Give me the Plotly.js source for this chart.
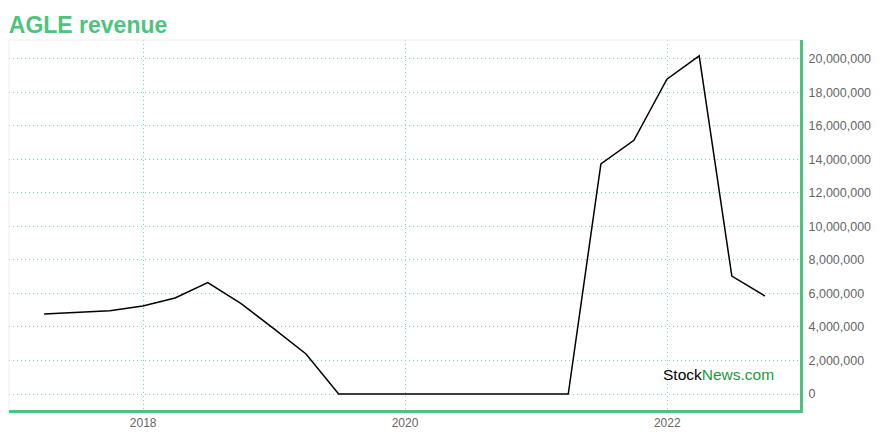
<!DOCTYPE html>
<html>
<head>
<meta charset="utf-8">
<script src="https://cdn.plot.ly/plotly-3.0.1.min.js"></script>
<style>html,body{margin:0;padding:0;background:#fff;}#chart{width:880px;height:440px;}</style>
</head>
<body>
<div id="chart"></div>
<script>
const dates = ["2017-03-31","2017-06-30","2017-09-30","2017-12-31","2018-03-31","2018-06-30","2018-09-30","2018-12-31","2019-03-31","2019-06-30","2019-09-30","2019-12-31","2020-03-31","2020-06-30","2020-09-30","2020-12-31","2021-03-31","2021-06-30","2021-09-30","2021-12-31","2022-03-31","2022-06-30","2022-09-30"];
const revenue = [4780000,4880000,4970000,5250000,5730000,6650000,5410000,3900000,2390000,0,0,0,0,0,0,0,0,13730000,15140000,18790000,20180000,7040000,5850000];
const tickValsY = [0,2000000,4000000,6000000,8000000,10000000,12000000,14000000,16000000,18000000,20000000];

const green = '#4dc47e';
const grid = '#7fd6a4';

Plotly.newPlot('chart', [{
  x: dates, y: revenue, type: 'scatter', mode: 'lines',
  line: {color: '#000', width: 1.5}, hoverinfo: 'skip'
}], {
  width: 880, height: 440,
  margin: {l: 9, r: 80, t: 40, b: 30},
  paper_bgcolor: '#fff', plot_bgcolor: '#fff',
  showlegend: false,
  title: {text: '<b>AGLE revenue</b>', x: 0.01, xanchor: 'left', y: 0.962, yanchor: 'top',
    font: {family: 'Liberation Sans, Arial, sans-serif', size: 23, color: green}},
  xaxis: {
    type: 'date', range: ['2016-12-23', '2023-01-06'],
    tick0: '2018-01-01', dtick: 'M24', tickformat: '%Y',
    showgrid: true, gridcolor: grid, griddash: '1px,3px', gridwidth: 1,
    showline: true, linecolor: green, linewidth: 3,
    ticks: '', zeroline: false,
    tickfont: {family: 'Liberation Sans, Arial, sans-serif', size: 12, color: '#666'}
  },
  yaxis: {
    side: 'right', range: [-955000, 21130000],
    tickvals: tickValsY, tickformat: ',d',
    showgrid: true, gridcolor: grid, griddash: '1px,3px', gridwidth: 1,
    showline: true, linecolor: green, linewidth: 3,
    ticks: '', zeroline: false, ticklabelstandoff: 3,
    tickfont: {family: 'Liberation Sans, Arial, sans-serif', size: 12.5, color: '#666'}
  },
  shapes: [
    {type: 'line', xref: 'paper', yref: 'paper', x0: 0, x1: 1, y0: 1, y1: 1, line: {color: '#eeeeee', width: 1}},
    {type: 'line', xref: 'paper', yref: 'paper', x0: 0, x1: 0, y0: 0, y1: 1, line: {color: '#eeeeee', width: 1}}
  ],
  annotations: [{
    xref: 'paper', yref: 'paper', x: 0.97, y: 0.097, xanchor: 'right', yanchor: 'middle',
    text: '<span style="color:#000">Stock</span><span style="color:#1a9a3a">News.com</span>',
    showarrow: false, font: {family: 'Liberation Sans, Arial, sans-serif', size: 15.5}
  }]
}, {displayModeBar: false, staticPlot: true});
</script>
</body>
</html>
